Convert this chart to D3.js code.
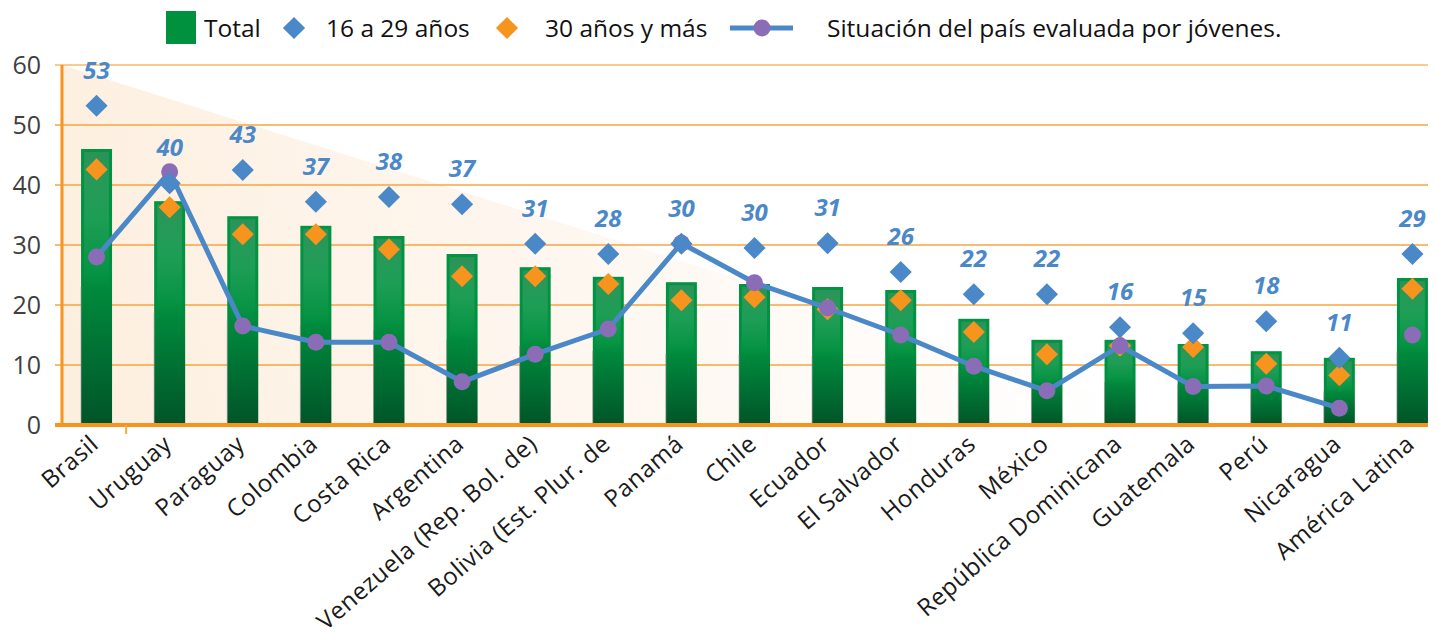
<!DOCTYPE html>
<html>
<head>
<meta charset="utf-8">
<script src="https://cdn.jsdelivr.net/npm/d3@7"></script>
<style>
  body { margin: 0; background: #fff; }
  text { font-family: "Open Sans", "Noto Sans", sans-serif; }
</style>
</head>
<body>
<div class="canva"></div>
<script>
// data
const countries = ["Brasil", "Uruguay", "Paraguay", "Colombia", "Costa Rica", "Argentina",
  "Venezuela (Rep. Bol. de)", "Bolivia (Est. Plur. de", "Panamá", "Chile", "Ecuador",
  "El Salvador", "Honduras", "México", "República Dominicana", "Guatemala", "Perú",
  "Nicaragua", "América Latina"];

const total = [46.0, 37.3, 34.8, 33.2, 31.5, 28.5, 26.3, 24.7, 23.8, 23.5, 23.0, 22.5, 17.7, 14.2, 14.2, 13.5, 12.3, 11.2, 24.5];
const jovenes = [53.2, 40.3, 42.5, 37.2, 38.0, 36.8, 30.2, 28.5, 30.2, 29.5, 30.3, 25.5, 21.8, 21.8, 16.3, 15.3, 17.3, 11.2, 28.5];
const jovenesLabels = ["53", "40", "43", "37", "38", "37", "31", "28", "30", "30", "31", "26", "22", "22", "16", "15", "18", "11", "29"];
const adultos = [42.6, 36.3, 31.8, 31.8, 29.3, 24.8, 24.8, 23.5, 20.8, 21.3, 19.3, 20.8, 15.5, 11.8, 13.2, 13.0, 10.2, 8.3, 22.7];
const situacion = [28.0, 42.2, 16.5, 13.8, 13.8, 7.2, 11.8, 16.0, 30.3, 23.7, 19.5, 15.0, 9.8, 5.7, 13.2, 6.4, 6.5, 2.8, 15.0];
const yTicks = [0, 10, 20, 30, 40, 50, 60];

const legendItems = ["Total", "16 a 29 años", "30 años y más", "Situación del país evaluada por jóvenes."];

const blue = "#4a88c8", orange = "#f7941d", purple = "#8a6db6", green = "#00913f";

const svg = d3.select(".canva").append("svg")
    .attr("width", 1437)
    .attr("height", 638);

const defs = svg.append("defs");

// peach fade behind the left part of the chart
const bgGrad = defs.append("linearGradient")
    .attr("id", "bgGrad")
    .attr("gradientUnits", "userSpaceOnUse")
    .attr("x1", 62).attr("y1", 425).attr("x2", 1100).attr("y2", 250);
bgGrad.append("stop").attr("offset", "0").attr("stop-color", "#fdefdf");
bgGrad.append("stop").attr("offset", "0.5").attr("stop-color", "#fef7f0");
bgGrad.append("stop").attr("offset", "1").attr("stop-color", "#ffffff");

// bar fill, dark at the foot
const barGrad = defs.append("linearGradient")
    .attr("id", "barGrad").attr("x1", 0).attr("y1", 0).attr("x2", 0).attr("y2", 1);
barGrad.append("stop").attr("offset", "0").attr("stop-color", "#009443");
barGrad.append("stop").attr("offset", "0.45").attr("stop-color", "#00903f");
barGrad.append("stop").attr("offset", "1").attr("stop-color", "#005428");

// pale inner glare near the top of each bar
const glare = defs.append("linearGradient")
    .attr("id", "glare").attr("x1", 0).attr("y1", 0).attr("x2", 0).attr("y2", 1);
glare.append("stop").attr("offset", "0").attr("stop-color", "#6f8f78").attr("stop-opacity", 0.4);
glare.append("stop").attr("offset", "0.25").attr("stop-color", "#7fc79a").attr("stop-opacity", 0.22);
glare.append("stop").attr("offset", "0.5").attr("stop-color", "#7fc79a").attr("stop-opacity", 0);

const y = d3.scaleLinear().domain([0, 60]).range([425, 65]);
const x = d3.scaleBand()
    .domain(countries)
    .range([60, 1449])
    .paddingInner(0.576)
    .paddingOuter(0.288);
const cx = d => x(d) + x.bandwidth() / 2;

const plotLeft = 55, plotRight = 1428;

svg.append("polygon")
    .attr("points", [[62, y(60)], [62, y(0)], [1200, y(0)]].map(p => p.join(",")).join(" "))
    .attr("fill", "url(#bgGrad)");

// grid lines
svg.append("g")
    .selectAll("line")
    .data(yTicks.filter(d => d > 0))
    .join("line")
    .attr("x1", plotLeft).attr("x2", plotRight)
    .attr("y1", d => y(d)).attr("y2", d => y(d))
    .attr("stroke", d => d === 60 ? "#f9b868" : "#f6a540")
    .attr("stroke-width", 1.6);

// y labels
const yAxis = d3.axisLeft(y).tickValues(yTicks).tickSize(0).tickPadding(0);
const gy = svg.append("g")
    .attr("transform", "translate(41,0)")
    .call(yAxis);
gy.select(".domain").remove();
gy.selectAll("text")
    .attr("font-size", "25px")
    .attr("fill", "#404040")
    .attr("font-family", "'Open Sans', sans-serif");

// bars
const bars = svg.append("g");
bars.selectAll("rect.bar")
    .data(countries)
    .join("rect")
    .attr("class", "bar")
    .attr("x", d => x(d))
    .attr("y", (d, i) => y(total[i]))
    .attr("width", x.bandwidth())
    .attr("height", (d, i) => y(0) - y(total[i]))
    .attr("fill", "url(#barGrad)");
bars.selectAll("rect.glare")
    .data(countries)
    .join("rect")
    .attr("class", "glare")
    .attr("x", d => x(d) + 3)
    .attr("y", (d, i) => y(total[i]) + 3)
    .attr("width", x.bandwidth() - 6)
    .attr("height", (d, i) => y(0) - y(total[i]) - 3)
    .attr("fill", "url(#glare)");
bars.selectAll("line.edge")
    .data(countries)
    .join("line")
    .attr("class", "edge")
    .attr("x1", d => x(d)).attr("x2", d => x(d))
    .attr("y1", (d, i) => y(total[i] * 0.5)).attr("y2", y(0))
    .attr("stroke", "#8c8c8c").attr("stroke-width", 1).attr("opacity", 0.6);

// axes lines
svg.append("line")
    .attr("x1", 62).attr("x2", 62).attr("y1", y(60)).attr("y2", y(0))
    .attr("stroke", orange).attr("stroke-width", 3);
svg.append("line")
    .attr("x1", plotLeft).attr("x2", plotRight).attr("y1", y(0)).attr("y2", y(0))
    .attr("stroke", orange).attr("stroke-width", 4);
svg.append("line")
    .attr("x1", x(countries[1]) - 28).attr("x2", x(countries[1]) - 28)
    .attr("y1", y(0)).attr("y2", y(0) + 9)
    .attr("stroke", "#f9a93f").attr("stroke-width", 2);

// diamonds as rotated squares
const diamond = d3.symbol().type(d3.symbolSquare).size(245);

// 30 años y más
svg.append("g")
    .selectAll("path")
    .data(countries)
    .join("path")
    .attr("d", diamond)
    .attr("transform", (d, i) => `translate(${cx(d)},${y(adultos[i])}) rotate(45)`)
    .attr("fill", orange);

// line (América Latina is not joined)
const lineGen = d3.line()
    .x((d, i) => cx(countries[i]))
    .y(d => y(d));
svg.append("path")
    .datum(situacion.slice(0, 18))
    .attr("d", lineGen)
    .attr("fill", "none")
    .attr("stroke", blue)
    .attr("stroke-width", 5)
    .attr("stroke-linejoin", "round");

svg.append("g")
    .selectAll("circle")
    .data(countries)
    .join("circle")
    .attr("cx", d => cx(d))
    .attr("cy", (d, i) => y(situacion[i]))
    .attr("r", 8.5)
    .attr("fill", purple);

// 16 a 29 años
svg.append("g")
    .selectAll("path")
    .data(countries)
    .join("path")
    .attr("d", diamond)
    .attr("transform", (d, i) => `translate(${cx(d)},${y(jovenes[i])}) rotate(45)`)
    .attr("fill", blue);

svg.append("g")
    .selectAll("text")
    .data(countries)
    .join("text")
    .attr("x", d => cx(d))
    .attr("y", (d, i) => y(jovenes[i]) - 27)
    .attr("text-anchor", "middle")
    .attr("font-size", "24px")
    .attr("font-weight", "bold")
    .attr("font-style", "italic")
    .attr("fill", blue)
    .text((d, i) => jovenesLabels[i]);

// x labels
svg.append("g")
    .selectAll("text")
    .data(countries)
    .join("text")
    .attr("transform", d => `translate(${cx(d) - 2},${y(0) + 15}) rotate(-41)`)
    .attr("text-anchor", "end")
    .attr("dy", "0.35em")
    .attr("font-size", "24px")
    .attr("letter-spacing", "0.6px")
    .attr("fill", "#1a1a1a")
    .text(d => d);

// legend
const legend = svg.append("g");
legend.append("rect")
    .attr("x", 166).attr("y", 11).attr("width", 30).attr("height", 33)
    .attr("fill", green);
legend.append("path")
    .attr("d", diamond)
    .attr("transform", "translate(294,28) rotate(45)")
    .attr("fill", blue);
legend.append("path")
    .attr("d", diamond)
    .attr("transform", "translate(507,28) rotate(45)")
    .attr("fill", orange);
legend.append("line")
    .attr("x1", 730).attr("x2", 793).attr("y1", 28).attr("y2", 28)
    .attr("stroke", blue).attr("stroke-width", 5);
legend.append("circle")
    .attr("cx", 762).attr("cy", 28).attr("r", 8.5).attr("fill", purple);

const legendX = [204, 326, 545, 827];
legend.selectAll("text")
    .data(legendItems)
    .join("text")
    .attr("x", (d, i) => legendX[i])
    .attr("y", 28)
    .attr("dy", "0.35em")
    .attr("font-size", "24.5px")
    .attr("fill", "#111")
    .text(d => d);
</script>
</body>
</html>
